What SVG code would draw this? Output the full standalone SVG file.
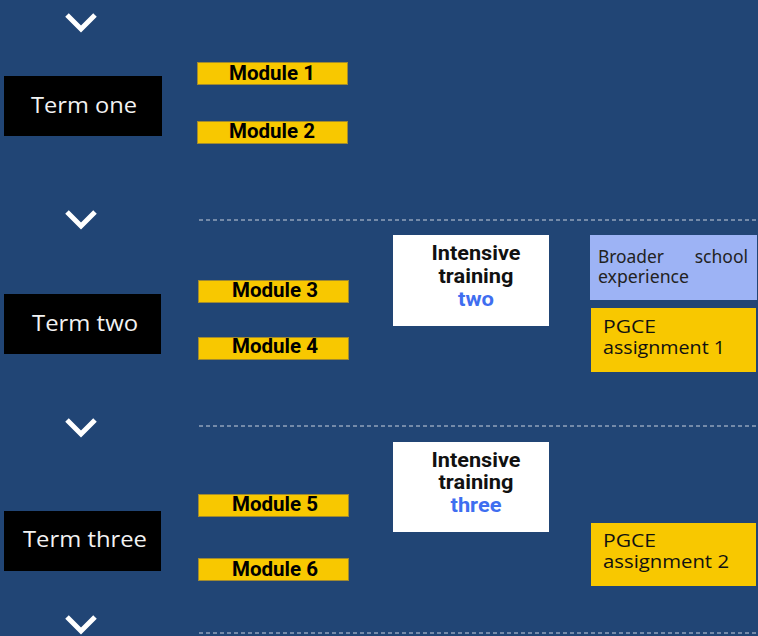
<svg xmlns="http://www.w3.org/2000/svg" width="758" height="636" viewBox="0 0 758 636">
<style>
.bg{fill:#214575}
.term rect{fill:#000}
.term text{font-family:"Open Sans","Liberation Sans",sans-serif;font-size:21px;fill:#f2f2f2;text-anchor:middle}
.mod rect{fill:#f8c800;stroke:#a08a30;stroke-width:1}
.mod text{font-family:Roboto,"Liberation Sans",sans-serif;font-weight:700;font-size:20px;fill:#000;text-anchor:middle}
.it rect{fill:#fff}
.it text{font-family:Roboto,"Liberation Sans",sans-serif;font-weight:700;font-size:20px;fill:#111;text-anchor:middle}
.it .blue{fill:#3f6ef0}
.pg rect{fill:#f8c800}
.pg text{font-family:"Open Sans","Liberation Sans",sans-serif;font-size:18px;fill:#111}
.bse rect{fill:#9db3f5}
.bse text{font-family:"Noto Sans","Open Sans",sans-serif;font-size:17.5px;fill:#222}
.chev{fill:none;stroke:#fff;stroke-width:5}
.dash{stroke:#c9d1de;stroke-width:1;stroke-dasharray:4 3}
</style>
<rect class="bg" x="0" y="0" width="758" height="636"/>
<g id="connectors">
<polyline class="chev" points="67,15 81,29 95,15"/>
<polyline class="chev" points="67,212 81,226 95,212"/>
<polyline class="chev" points="67,420 81,434 95,420"/>
<polyline class="chev" points="67,617 81,631 95,617"/>
<line class="dash" x1="199" y1="220" x2="758" y2="220"/>
<line class="dash" x1="199" y1="426" x2="758" y2="426"/>
<line class="dash" x1="199" y1="633" x2="758" y2="633"/>
</g>
<g id="term-one" class="term"><rect x="4" y="76" width="158" height="60"/><text x="84" y="113" textLength="106" lengthAdjust="spacingAndGlyphs">Term one</text></g>
<g id="term-two" class="term"><rect x="4" y="294" width="157" height="60"/><text x="85" y="331" textLength="106" lengthAdjust="spacingAndGlyphs">Term two</text></g>
<g id="term-three" class="term"><rect x="4" y="511" width="157" height="60"/><text x="85" y="547" textLength="124" lengthAdjust="spacingAndGlyphs">Term three</text></g>
<g id="module-1" class="mod"><rect x="197.5" y="62.5" width="150" height="22"/><text x="272" y="80" textLength="86" lengthAdjust="spacingAndGlyphs">Module 1</text></g>
<g id="module-2" class="mod"><rect x="197.5" y="121.5" width="150" height="22"/><text x="272" y="138" textLength="86" lengthAdjust="spacingAndGlyphs">Module 2</text></g>
<g id="module-3" class="mod"><rect x="198.5" y="280.5" width="150" height="22"/><text x="275" y="297" textLength="86" lengthAdjust="spacingAndGlyphs">Module 3</text></g>
<g id="module-4" class="mod"><rect x="198.5" y="337.5" width="150" height="22"/><text x="275" y="353" textLength="86" lengthAdjust="spacingAndGlyphs">Module 4</text></g>
<g id="module-5" class="mod"><rect x="198.5" y="494.5" width="150" height="22"/><text x="275" y="511" textLength="86" lengthAdjust="spacingAndGlyphs">Module 5</text></g>
<g id="module-6" class="mod"><rect x="198.5" y="558.5" width="150" height="22"/><text x="275" y="576" textLength="86" lengthAdjust="spacingAndGlyphs">Module 6</text></g>
<g id="intensive-two" class="it"><rect x="393" y="235" width="156" height="91"/><text x="476" y="260" textLength="89" lengthAdjust="spacingAndGlyphs">Intensive</text><text x="476" y="283" textLength="75" lengthAdjust="spacingAndGlyphs">training</text><text class="blue" x="476" y="306" textLength="36" lengthAdjust="spacingAndGlyphs">two</text></g>
<g id="intensive-three" class="it"><rect x="393" y="442" width="156" height="90"/><text x="476" y="467" textLength="89" lengthAdjust="spacingAndGlyphs">Intensive</text><text x="476" y="489" textLength="75" lengthAdjust="spacingAndGlyphs">training</text><text class="blue" x="476" y="512" textLength="51" lengthAdjust="spacingAndGlyphs">three</text></g>
<g id="broader-school" class="bse"><rect x="590" y="235" width="167" height="65"/><text x="598" y="263" textLength="66" lengthAdjust="spacingAndGlyphs">Broader</text><text x="748" y="263" text-anchor="end">school</text><text x="598" y="283" textLength="91" lengthAdjust="spacingAndGlyphs">experience</text></g>
<g id="pgce-1" class="pg"><rect x="591" y="308" width="165" height="64"/><text x="603" y="333" textLength="53" lengthAdjust="spacingAndGlyphs">PGCE</text><text x="603" y="354" textLength="122" lengthAdjust="spacingAndGlyphs">assignment 1</text></g>
<g id="pgce-2" class="pg"><rect x="591" y="523" width="165" height="63"/><text x="603" y="547" textLength="53" lengthAdjust="spacingAndGlyphs">PGCE</text><text x="603" y="568" textLength="126" lengthAdjust="spacingAndGlyphs">assignment 2</text></g>
</svg>
